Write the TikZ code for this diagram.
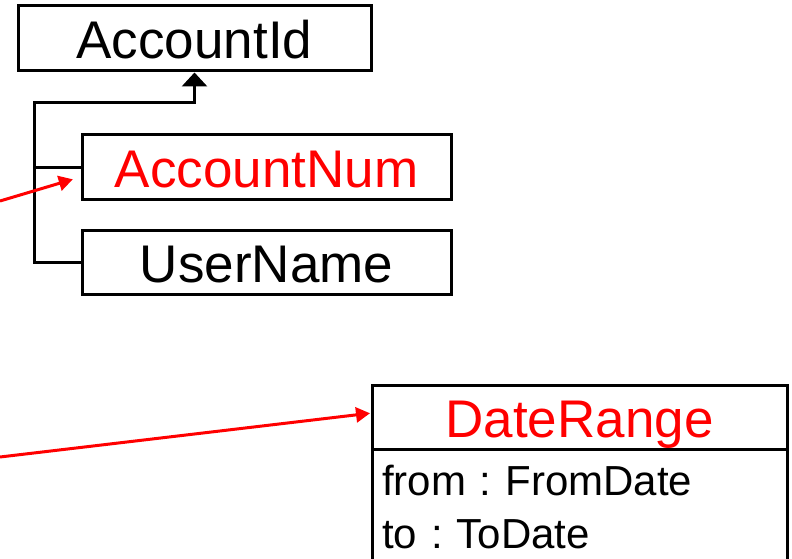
\documentclass[tikz,border=0pt]{standalone}
\usepackage{fontspec}
\setmainfont{Liberation Sans}
\usetikzlibrary{arrows.meta}
\frenchspacing

\begin{document}
\begin{tikzpicture}[x=1pt, y=-1pt,
    box/.style={draw, line width=3pt, inner sep=0pt, minimum height=64pt,
      text height=40pt, text depth=0pt, font=\fontsize{53}{64}\selectfont},
    attrbox/.style={draw, line width=3pt, inner xsep=10pt, inner ysep=16pt,
      outer sep=0pt, text width=395pt, align=left,
      font=\fontsize{42}{53}\selectfont},
    link/.style={line width=3pt},
    pointer/.style={line width=3pt, red, -{Triangle[length=14pt,width=15pt]}}]
  \useasboundingbox (0,0) rectangle (792,559);
  \clip (0,0) rectangle (792,559);

  % Boxes
  \node[box, minimum width=353pt, minimum height=65pt] (accountid) at (194.5,38.5) {AccountId};
  \node[box, minimum width=369pt, text=red] (accountnum) at (266.5,167) {AccountNum};
  \node[box, minimum width=369pt] (username) at (266.5,262.5) {UserName};

  \node[box, outer sep=0pt, minimum width=415pt, text=red] (daterange) at (579.5,417) {DateRange};
  \node[attrbox, anchor=north west] (daterangeattr) at (daterange.south west)
    {from : FromDate\\to : ToDate};

  \coordinate (trunk) at (34,103);
  \coordinate (src1) at (0,201);
  \coordinate (src2) at (0,457);

  % Generalization
  \draw[link, -{Triangle[length=14pt,width=25pt]}]
    (username.west) -| (trunk) -| (accountid.south);
  \draw[link] (accountnum.west) -- (accountnum.west -| trunk);

  % Pointers
  \draw[pointer, shorten >=8pt] (src1) -- ([yshift=-10pt]accountnum.west);
  \draw[pointer, shorten >=2pt] (src2) -- ([yshift=4pt]daterange.west);

\end{tikzpicture}
\end{document}
